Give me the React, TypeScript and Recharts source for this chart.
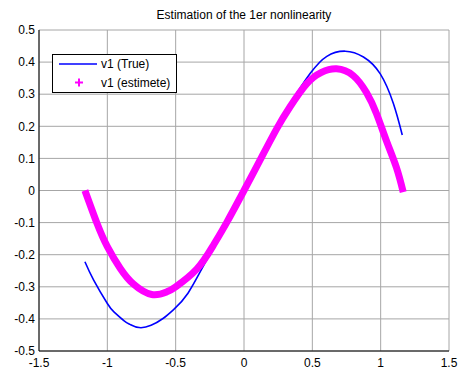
import { LineChart, Line, XAxis, YAxis, CartesianGrid, Legend } from "recharts";

// true nonlinearity v1, sampled along its curve
const trueX = [-1.164, -1.1, -1.0, -0.95, -0.877, -0.834, -0.768, -0.68, -0.59, -0.517, -0.41, -0.273, -0.127, 0, 0.12, 0.24, 0.35, 0.485, 0.606, 0.741, 0.874, 0.996, 1.093, 1.158];
const trueY = [-0.222, -0.279, -0.352, -0.379, -0.406, -0.417, -0.427, -0.42, -0.398, -0.372, -0.32, -0.216, -0.105, 0, 0.1, 0.195, 0.278, 0.365, 0.418, 0.434, 0.416, 0.364, 0.271, 0.173];

// estimated nonlinearity v1
const estX = [-1.164, -1.075, -1.0, -0.905, -0.808, -0.675, -0.566, -0.5, -0.346, -0.226, -0.127, 0, 0.124, 0.243, 0.336, 0.458, 0.567, 0.677, 0.799, 0.896, 0.969, 1.042, 1.115, 1.165];
const estY = [0.0, -0.103, -0.175, -0.243, -0.292, -0.324, -0.316, -0.3, -0.245, -0.172, -0.1, 0, 0.1, 0.195, 0.26, 0.332, 0.368, 0.379, 0.358, 0.305, 0.24, 0.155, 0.072, -0.005];

const xTicks = [-1.5, -1, -0.5, 0, 0.5, 1, 1.5];
const yTicks = [-0.5, -0.4, -0.3, -0.2, -0.1, 0, 0.1, 0.2, 0.3, 0.4, 0.5];

const FONT = "'Liberation Sans', Arial, Helvetica, sans-serif";
const BLUE = "#0000ff";
const MAGENTA = "#ff00ff";

const toPoints = (xs: number[], ys: number[]) => xs.map((x, i) => ({ x, y: ys[i] }));
const trueData = toPoints(trueX, trueY);
const estData = toPoints(estX, estY);

const fmt = (v: number) => String(Math.round(v * 10) / 10);

const tickStyle = { fill: "#000", fontSize: 12, fontFamily: FONT };

function LegendBox() {
  return (
    <div
      style={{
        width: 123,
        height: 37,
        border: "1px solid #000",
        background: "#fff",
        fontFamily: FONT,
        fontSize: 12,
      }}
    >
      <svg width={123} height={37} style={{ display: "block" }}>
        <line x1={6} x2={44} y1={9} y2={9} stroke={BLUE} strokeWidth={1.5} />
        <text x={48} y={9} dominantBaseline="central" fill="#000">
          v1 (True)
        </text>
        <path d="M22 27.5 H30 M26 23.5 V31.5" stroke={MAGENTA} strokeWidth={2} />
        <text x={48} y={27.5} dominantBaseline="central" fill="#000">
          v1 (estimete)
        </text>
      </svg>
    </div>
  );
}

export default function App() {
  return (
    <div style={{ position: "absolute", left: 0, top: 0, width: 464, height: 369, background: "#fff" }}>
      <div
        style={{
          position: "absolute",
          left: 39,
          width: 410,
          top: 8,
          textAlign: "center",
          fontFamily: FONT,
          fontSize: 12,
          lineHeight: "14px",
          color: "#000",
        }}
      >
        Estimation of the 1er nonlinearity
      </div>
      <LineChart width={464} height={369} margin={{ top: 30, right: 15, left: 0, bottom: 0 }}>
        <CartesianGrid stroke="#a6a6a6" strokeWidth={1} />
        <XAxis
          dataKey="x"
          type="number"
          domain={[-1.5, 1.5]}
          ticks={xTicks}
          interval={0}
          tickFormatter={fmt}
          tick={tickStyle}
          tickLine={false}
          tickSize={0}
          tickMargin={7}
          height={18}
          axisLine={{ stroke: "#000" }}
        />
        <XAxis
          xAxisId="top"
          orientation="top"
          type="number"
          domain={[-1.5, 1.5]}
          ticks={xTicks}
          tick={false}
          tickLine={false}
          height={0}
          axisLine={{ stroke: "#000" }}
        />
        <YAxis
          type="number"
          domain={[-0.5, 0.5]}
          ticks={yTicks}
          interval={0}
          tickFormatter={fmt}
          tick={tickStyle}
          tickLine={false}
          tickSize={0}
          tickMargin={4}
          width={39}
          axisLine={{ stroke: "#000" }}
        />
        <YAxis
          yAxisId="right"
          orientation="right"
          type="number"
          domain={[-0.5, 0.5]}
          ticks={yTicks}
          tick={false}
          tickLine={false}
          width={0}
          axisLine={{ stroke: "#000" }}
        />
        <Line
          data={trueData}
          dataKey="y"
          name="v1 (True)"
          type="natural"
          stroke={BLUE}
          strokeWidth={1.6}
          dot={false}
          activeDot={false}
          isAnimationActive={false}
        />
        <Line
          data={estData}
          dataKey="y"
          name="v1 (estimete)"
          type="natural"
          stroke={MAGENTA}
          strokeWidth={7}
          dot={false}
          activeDot={false}
          isAnimationActive={false}
        />
        <Legend
          layout="horizontal"
          verticalAlign="middle"
          align="center"
          content={<LegendBox />}
          wrapperStyle={{ left: 52, top: 54, width: 125, height: 39 }}
        />
      </LineChart>
    </div>
  );
}
